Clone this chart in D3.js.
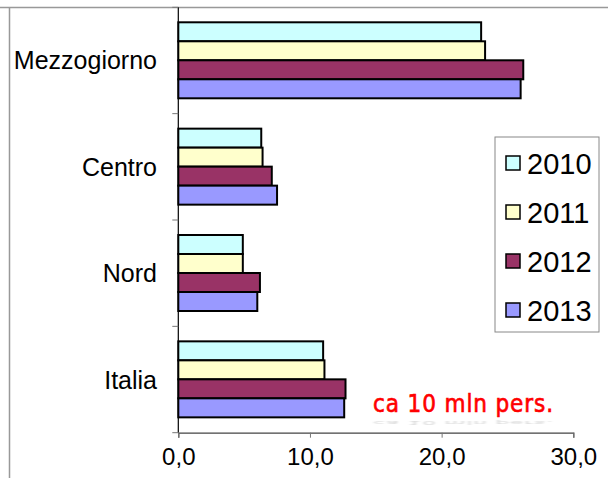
<!DOCTYPE html>
<head>
<meta charset="utf-8">
<script src="https://cdnjs.cloudflare.com/ajax/libs/d3/7.8.5/d3.min.js"></script>
<style>
  html, body { margin: 0; padding: 0; background: #fff; }
  svg { display: block; }
  text { font-family: "Liberation Sans", Arial, sans-serif; }
</style>
</head>
<body>
<svg id="chart" width="608" height="478"></svg>
<script>
// data
var categories = ["Mezzogiorno", "Centro", "Nord", "Italia"];
var years = ["2010", "2011", "2012", "2013"];
var v2010 = [23.0, 6.3, 4.9, 11.0];
var v2011 = [23.3, 6.4, 4.9, 11.1];
var v2012 = [26.2, 7.1, 6.2, 12.7];
var v2013 = [26.0, 7.5, 6.0, 12.6];
var xTicks = [0, 10, 20, 30];
var colors = ["#ccffff", "#ffffcc", "#993366", "#9999ff"];
var note = "ca 10 mln pers.";

var series = [v2010, v2011, v2012, v2013];
var svg = d3.select("#chart");

// outer frame lines
svg.append("line").attr("x1", 0).attr("x2", 608).attr("y1", 7.5).attr("y2", 7.5)
   .attr("stroke", "#999").attr("stroke-width", 1.5);
svg.append("line").attr("x1", 9.5).attr("x2", 9.5).attr("y1", 7.5).attr("y2", 478)
   .attr("stroke", "#999").attr("stroke-width", 1.5);

var x = d3.scaleLinear().domain([0, 30]).range([178.3, 573.3]);
var y = d3.scaleBand().domain(categories).range([7.3, 432.7]);
var yy = d3.scaleBand().domain(years).range([15, 91]);

// bars
var g = svg.append("g");
categories.forEach(function(c, i) {
  years.forEach(function(yr, j) {
    g.append("rect")
      .attr("x", x(0))
      .attr("y", y(c) + yy(yr))
      .attr("width", x(series[j][i]) - x(0))
      .attr("height", yy.bandwidth())
      .attr("fill", colors[j])
      .attr("stroke", "#000")
      .attr("stroke-width", 2);
  });
});

// y axis line + ticks at band edges
svg.append("line").attr("x1", x(0)).attr("x2", x(0)).attr("y1", 7.3).attr("y2", 432.7)
   .attr("stroke", "#000").attr("stroke-width", 1.2);
var edges = categories.map(function(c) { return y(c); }).concat([432.7]);
edges.forEach(function(e) {
  svg.append("line").attr("x1", x(0) - 6).attr("x2", x(0)).attr("y1", e).attr("y2", e)
     .attr("stroke", "#777").attr("stroke-width", 1);
});

// x axis
var xAxis = d3.axisBottom(x).tickValues(xTicks).tickSize(5).tickPadding(10)
  .tickFormat(function(d) { return d3.format(".1f")(d).replace(".", ","); });
var ax = svg.append("g").attr("transform", "translate(0,432.7)").call(xAxis);
ax.select(".domain").attr("stroke", "#444").attr("stroke-width", 1.2);
ax.selectAll(".tick line").attr("stroke", "#777");
ax.selectAll(".tick text").attr("font-size", 24).attr("fill", "#000")
  .style("font-family", "Liberation Sans, Arial, sans-serif");

// category labels
categories.forEach(function(c) {
  svg.append("text").attr("x", 157).attr("y", y(c) + y.bandwidth() / 2 + 9)
     .attr("text-anchor", "end").attr("font-size", 25).text(c);
});

// legend
var lg = svg.append("g");
lg.append("rect").attr("x", 495).attr("y", 137).attr("width", 104).attr("height", 195)
  .attr("fill", "#fff").attr("stroke", "#888").attr("stroke-width", 1);
var rowY = [163, 212, 261, 310];
years.forEach(function(yr, j) {
  lg.append("rect").attr("x", 506).attr("y", rowY[j] - 7).attr("width", 14).attr("height", 14)
    .attr("fill", colors[j]).attr("stroke", "#000").attr("stroke-width", 1.5);
  lg.append("text").attr("x", 527).attr("y", rowY[j] + 10.5).attr("font-size", 29).text(yr);
});

// red note with faint reflection
var defs = svg.append("defs");
defs.append("filter").attr("id", "blur").append("feGaussianBlur").attr("stdDeviation", 1.6);
svg.append("text").attr("x", 373).attr("y", 412)
   .attr("font-size", 24).attr("fill", "#ff0000")
   .attr("stroke", "#ff0000").attr("stroke-width", 0.6)
   .style("font-family", "DejaVu Sans Condensed, sans-serif")
   .attr("textLength", 180).attr("lengthAdjust", "spacing")
   .text(note);
svg.append("text").attr("transform", "translate(373,421) scale(1,-0.25)")
   .attr("font-size", 24).attr("fill", "#999")
   .attr("opacity", 0.4).attr("filter", "url(#blur)")
   .style("font-family", "DejaVu Sans Condensed, sans-serif")
   .attr("textLength", 180).attr("lengthAdjust", "spacing")
   .text(note);
</script>
</body>
</html>
